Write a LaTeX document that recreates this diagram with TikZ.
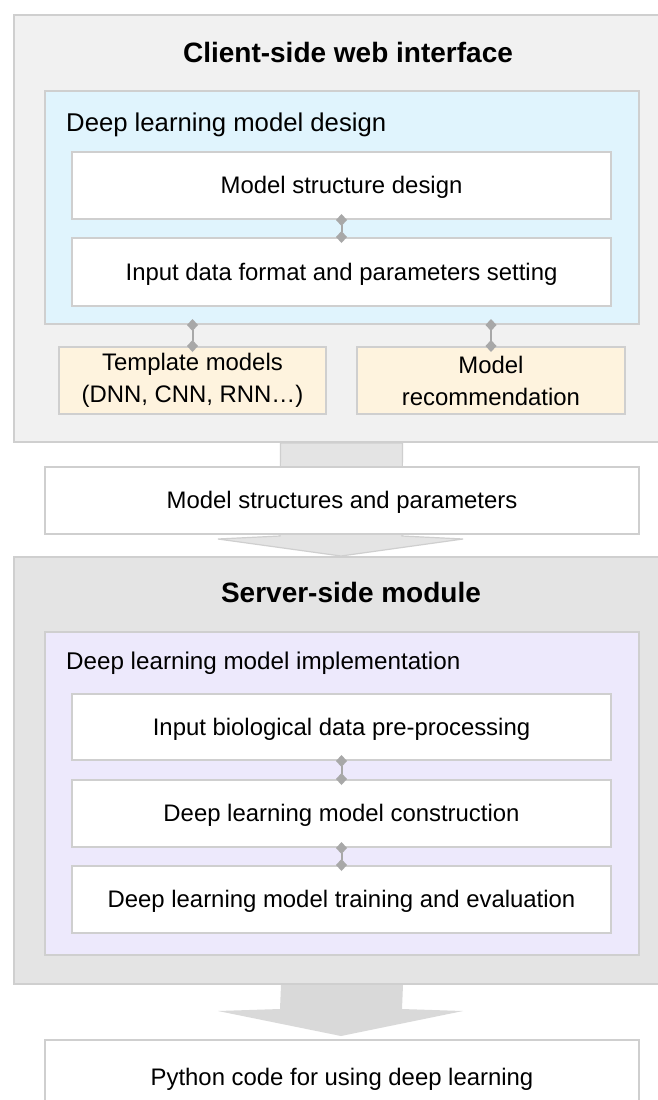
\documentclass[tikz,border=0pt]{standalone}
\usepackage{fontspec}
\setmainfont{Liberation Sans}
\usetikzlibrary{arrows.meta,calc}

\definecolor{edge}{HTML}{CFCFCF}
\definecolor{clientbg}{HTML}{F1F1F1}
\definecolor{serverbg}{HTML}{E4E4E4}
\definecolor{designbg}{HTML}{E0F4FD}
\definecolor{implbg}{HTML}{EDE9FC}
\definecolor{optbg}{HTML}{FEF3DE}
\definecolor{linkgray}{HTML}{A8A8A8}
\definecolor{flowA}{HTML}{E4E4E4}
\definecolor{flowB}{HTML}{D9D9D9}

\tikzset{
  panel/.style={rectangle, draw=edge, line width=2pt, inner sep=0pt, anchor=north west},
  titletext/.style={font=\fontsize{28}{32}\selectfont\bfseries, inner sep=0pt},
  labeltext/.style={font=\fontsize{25.7}{28}\selectfont, inner sep=0pt, anchor=west},
  bodytext/.style={font=\fontsize{23.9}{32}\selectfont, align=center},
  stepline/.style={bodytext, yshift=-2pt},
  link/.style={draw=linkgray, line width=2pt,
    {Diamond[width=11pt,length=12pt]}-{Diamond[width=11pt,length=12pt]},
    shorten <=-6pt, shorten >=-6pt},
  flow/.style={line width=1.2pt, line join=miter}
}

\begin{document}
\begin{tikzpicture}[x=1pt,y=-1pt]
\useasboundingbox (0,0) rectangle (658,1100);
\clip (0,0) rectangle (658,1100);
\fill[white] (0,0) rectangle (658,1100);

% ---------- client side ----------
\node[panel, fill=clientbg, minimum width=670pt, minimum height=427pt] (client) at (13,14) {};
\node[titletext] (clienttitle) at (348,52) {Client-side web interface};

\node[panel, fill=designbg, minimum width=594pt, minimum height=233pt] (design) at (44,90) {};
\node[labeltext] (designlabel) at (66,125) {Deep learning model design};

\node[panel, fill=white, minimum width=539pt, minimum height=67pt] (struct) at (71,151) {};
\node[stepline] at (struct.center) {Model structure design};
\node[panel, fill=white, minimum width=539pt, minimum height=68pt] (format) at (71,237) {};
\node[stepline] at (format.center) {Input data format and parameters setting};

\node[panel, fill=optbg, minimum width=267pt, minimum height=67pt] (tmpl) at (58,346) {};
\node[bodytext] at (tmpl.center) {Template models\\(DNN, CNN, RNN…)};
\node[panel, fill=optbg, minimum width=268pt, minimum height=67pt] (recom) at (356,346) {};
\node[bodytext] at (recom.center) {Model\\recommendation};

\draw[link] (struct.south) -- (format.north);
\draw[link] (tmpl.north |- design.south) -- (tmpl.north);
\draw[link] (recom.north |- design.south) -- (recom.north);

% ---------- hand-over between client and server ----------
\coordinate (a1top) at (struct.north |- client.south);
\coordinate (a1tip) at (341,556);
\draw[flow, draw=edge, fill=flowA]
  ($(a1top)+(-61,0)$) -- ($(a1tip)+(-61,-20)$) -- ($(a1tip)+(-123,-17)$) -- (a1tip)
  -- ($(a1tip)+(122,-17)$) -- ($(a1tip)+(61,-20)$) -- ($(a1top)+(61,0)$) -- cycle;
\node[panel, fill=white, minimum width=594pt, minimum height=67pt] (msp) at (44,466) {};
\node[stepline] at (msp.center) {Model structures and parameters};

% ---------- server side ----------
\node[panel, fill=serverbg, minimum width=670pt, minimum height=427pt] (server) at (13,556) {};
\node[titletext] (servertitle) at (351,592) {Server-side module};

\node[panel, fill=implbg, minimum width=594pt, minimum height=323pt] (impl) at (44,631) {};
\node[labeltext, font=\fontsize{24.2}{28}\selectfont] (impllabel) at (66,663) {Deep learning model implementation};

\node[panel, fill=white, minimum width=539pt, minimum height=66pt] (prep) at (71,693) {};
\node[stepline] at (prep.center) {Input biological data pre-processing};
\node[panel, fill=white, minimum width=539pt, minimum height=67pt] (build) at (71,779) {};
\node[stepline] at (build.center) {Deep learning model construction};
\node[panel, fill=white, minimum width=539pt, minimum height=67pt] (train) at (71,865) {};
\node[stepline] at (train.center) {Deep learning model training and evaluation};

\draw[link] (prep.south) -- (build.north);
\draw[link] (build.south) -- (train.north);

% ---------- output ----------
\coordinate (a2top) at (msp.north |- server.south);
\coordinate (a2tip) at (341,1036);
\fill[flowB]
  ($(a2top)+(-61,0)$) -- ($(a2tip)+(-61,-27)$) -- ($(a2tip)+(-123,-25)$) -- (a2tip)
  -- ($(a2tip)+(122,-25)$) -- ($(a2tip)+(61,-27)$) -- ($(a2top)+(61,0)$) -- cycle;
\node[panel, fill=white, minimum width=594pt, minimum height=100pt] (code) at (44,1039) {};
\node[stepline] at ($(code.north)+(0,38)$) {Python code for using deep learning};
\end{tikzpicture}
\end{document}
